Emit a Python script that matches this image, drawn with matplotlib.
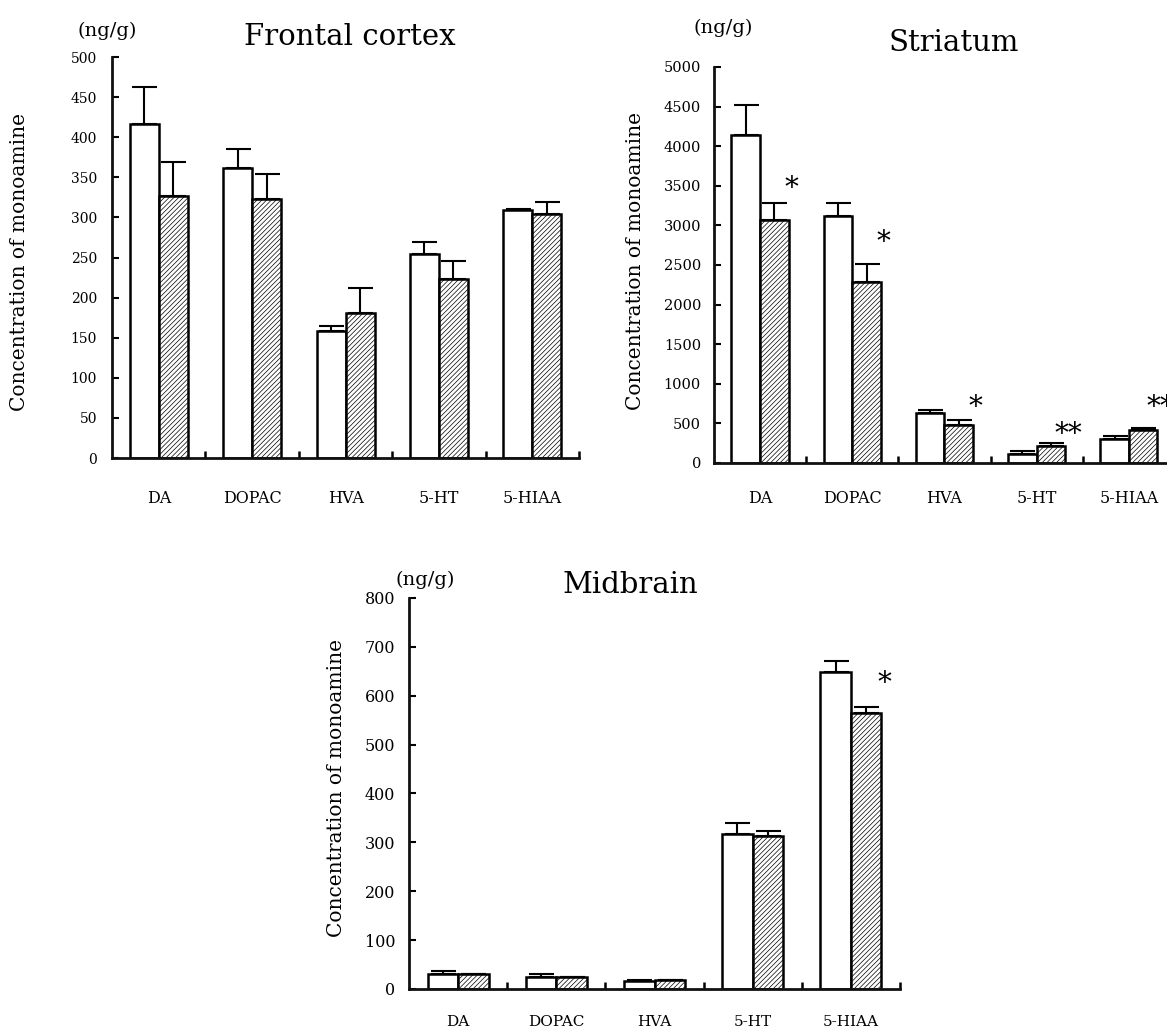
import numpy as np
import matplotlib
matplotlib.use('Agg')
import matplotlib.pyplot as plt

plt.rcParams['font.family'] = ['DejaVu Serif']
plt.rcParams['hatch.linewidth'] = 0.5

categories = ['DA', 'DOPAC', 'HVA', '5-HT', '5-HIAA']

# frontal cortex (ng/g)
frontal_ctrl = [416, 362, 158, 254, 309]
frontal_ctrl_err = [46, 23, 7, 15, 2]
frontal_treat = [327, 323, 181, 223, 304]
frontal_treat_err = [42, 31, 31, 23, 15]

# striatum (ng/g)
striatum_ctrl = [4140, 3120, 635, 114, 307]
striatum_ctrl_err = [380, 165, 35, 34, 34]
striatum_treat = [3068, 2290, 480, 215, 417]
striatum_treat_err = [215, 220, 63, 34, 29]
striatum_sig = ['*', '*', '*', '**', '**']
striatum_sig_y = [3470, 2780, 695, 355, 695]

# midbrain (ng/g)
midbrain_ctrl = [30, 25, 17, 317, 648]
midbrain_ctrl_err = [7, 5, 1, 22, 24]
midbrain_treat = [30, 24, 18, 312, 565]
midbrain_treat_err = [1, 1, 1, 11, 12]
midbrain_sig = ['', '', '', '', '*']
midbrain_sig_y = [0, 0, 0, 0, 625]

W = 0.31


def draw_panel(ax, ctrl, ctrl_err, treat, treat_err, ymax, ystep,
               ytick_size, ytick_pad, cat_size, cat_pad):
    x = np.arange(len(categories)) + 0.5
    ax.bar(x - W / 2, ctrl, W, facecolor='white', edgecolor='black',
           linewidth=1.8, zorder=2)
    ax.bar(x + W / 2, treat, W, facecolor='white', edgecolor='black',
           hatch='///////', linewidth=1.8, zorder=2)
    zeros = np.zeros(len(categories))
    ax.errorbar(x - W / 2, ctrl, yerr=[zeros, ctrl_err], fmt='none',
                ecolor='black', elinewidth=1.5, capsize=9, capthick=1.5, zorder=3)
    ax.errorbar(x + W / 2, treat, yerr=[zeros, treat_err], fmt='none',
                ecolor='black', elinewidth=1.5, capsize=9, capthick=1.5, zorder=3)

    ax.set_xlim(0, len(categories))
    ax.set_ylim(0, ymax)
    ax.set_xticks(np.arange(1, len(categories) + 1))
    ax.set_xticklabels([])
    ax.set_xticks(x, minor=True)
    ax.set_xticklabels(categories, minor=True)
    ax.set_yticks(np.arange(0, ymax + 1, ystep))
    ax.tick_params(axis='x', which='major', direction='in', length=5, width=1.8)
    ax.tick_params(axis='x', which='minor', length=0, pad=cat_pad, labelsize=cat_size)
    ax.tick_params(axis='y', direction='in', length=5, width=1.5,
                   pad=ytick_pad, labelsize=ytick_size)

    for side in ['top', 'right']:
        ax.spines[side].set_visible(False)
    for side in ['left', 'bottom']:
        ax.spines[side].set_linewidth(2)
        ax.spines[side].set_color('#111111')
    return x


def add_texts(ax, title, tx, ty, unit_x, unit_y, lab_x, lab_y):
    ax.text(tx, ty, title, transform=ax.transAxes, ha='center', va='center',
            fontsize=21)
    ax.text(unit_x, unit_y, '(ng/g)', transform=ax.transAxes, ha='center',
            va='center', fontsize=14)
    ax.text(lab_x, lab_y, 'Concentration of monoamine', transform=ax.transAxes,
            rotation=90, ha='center', va='center', fontsize=14.5)


def add_sig(ax, x, sig, sig_y):
    # stars sit just right of the hatched bar
    for xi, s, yi in zip(x, sig, sig_y):
        if s:
            ax.annotate(s, xy=(xi + W, yi), xytext=(2, 0),
                        textcoords='offset points', ha='center', va='center',
                        fontsize=20, annotation_clip=False)


fig = plt.figure(figsize=(11.67, 10.29), dpi=100)

ax1 = fig.add_axes([0.0960, 0.5549, 0.4002, 0.3897])
draw_panel(ax1, frontal_ctrl, frontal_ctrl_err, frontal_treat, frontal_treat_err,
           500, 50, 10, 10.8, 11.5, 23)
add_texts(ax1, 'Frontal cortex', 0.51, 1.05, -0.01, 1.065, -0.198, 0.49)

ax2 = fig.add_axes([0.6118, 0.5501, 0.3950, 0.3848])
x2 = draw_panel(ax2, striatum_ctrl, striatum_ctrl_err, striatum_treat,
                striatum_treat_err, 5000, 500, 10.5, 9.4, 11.5, 19.5)
add_texts(ax2, 'Striatum', 0.52, 1.061, 0.02, 1.098, -0.171, 0.51)
add_sig(ax2, x2, striatum_sig, striatum_sig_y)

ax3 = fig.add_axes([0.3505, 0.0389, 0.4207, 0.3800])
x3 = draw_panel(ax3, midbrain_ctrl, midbrain_ctrl_err, midbrain_treat,
                midbrain_treat_err, 800, 100, 11.5, 10, 11, 18.7)
add_texts(ax3, 'Midbrain', 0.45, 1.033, 0.033, 1.046, -0.147, 0.514)
add_sig(ax3, x3, midbrain_sig, midbrain_sig_y)

fig.savefig('out.png', dpi=100, facecolor='white')
